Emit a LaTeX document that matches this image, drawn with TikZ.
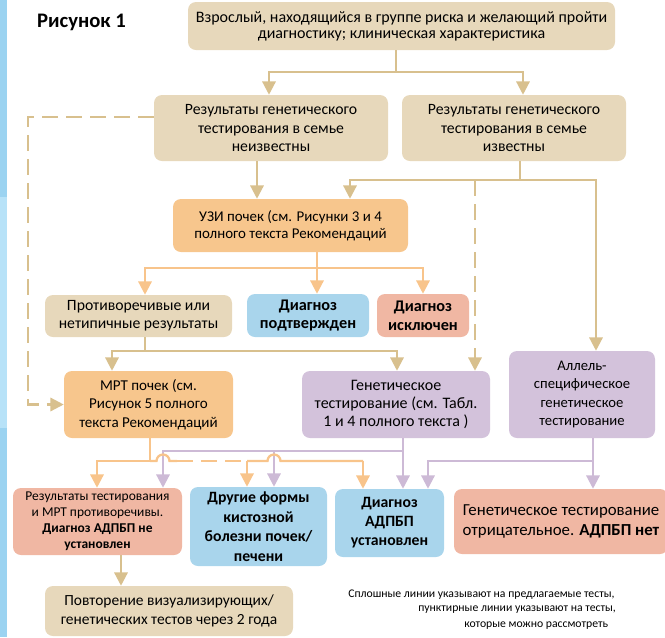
\documentclass[tikz,border=0pt]{standalone}
\usepackage{fontspec}
\setmainfont{Carlito}
\usetikzlibrary{arrows.meta}
\definecolor{tanL}{HTML}{D8C08E}
\definecolor{beigeF}{HTML}{E7D8BB}
\definecolor{orangeF}{HTML}{F7C68D}
\definecolor{orangeL}{HTML}{F8C48B}
\definecolor{blueF}{HTML}{A9D5EC}
\definecolor{salmonF}{HTML}{F0B7A3}
\definecolor{lilacF}{HTML}{D3C2DB}
\definecolor{purpleL}{HTML}{CDBAD6}
\definecolor{stripeD}{HTML}{9BD3F1}
\definecolor{stripeL}{HTML}{B7E2F8}
\begin{document}
\begin{tikzpicture}[x=0.75pt,y=-0.75pt,
  box/.style={rounded corners=6pt, align=center, inner sep=2pt, font=\fontsize{11.8}{13.8}\selectfont},
  beigebox/.style={box, fill=beigeF},
  orangebox/.style={box, fill=orangeF},
  bluebox/.style={box, fill=blueF},
  salmonbox/.style={box, fill=salmonF},
  lilacbox/.style={box, fill=lilacF},
  tl/.style={draw=tanL, line width=1.7pt},
  ol/.style={draw=orangeL, line width=1.7pt},
  pl/.style={draw=purpleL, line width=1.7pt},
  arr/.style={-{Triangle[width=10pt,length=10pt]}},
  dsh/.style={dash pattern=on 12pt off 6pt},
  notetext/.style={anchor=west, inner sep=0pt, font=\fontsize{8.8}{10}\selectfont}
]
\useasboundingbox (0,0) rectangle (665,637);
% left stripe
\fill[stripeD] (0,0) rectangle (7,197);
\fill[stripeL] (0,197) rectangle (7,428);
\fill[stripeD] (0,428) rectangle (7,637);

\node[font=\fontsize{15.5}{18}\bfseries, inner sep=0pt] (title) at (81.5,22) {Рисунок 1};

% boxes
\node[beigebox, minimum width=320.25pt, minimum height=36pt, font=\fontsize{12}{12}\selectfont] (top) at (401.5,26)
  {Взрослый, находящийся в группе риска и желающий пройти\\диагностику; клиническая характеристика};
\node[beigebox, minimum width=175.5pt, minimum height=49.5pt] (unknown) at (271,128)
  {Результаты генетического\\тестирования в семье\\неизвестны};
\node[beigebox, minimum width=168pt, minimum height=49.5pt] (known) at (514,128)
  {Результаты генетического\\тестирования в семье\\известны};
\node[orangebox, minimum width=176.25pt, minimum height=39.75pt, font=\fontsize{11.2}{12.4}\selectfont] (uzi) at (290.5,225.5)
  {УЗИ почек (см. Рисунки 3 и 4\\полного текста Рекомендаций};
\node[beigebox, minimum width=140.25pt, minimum height=31.5pt] (contr) at (138.5,316)
  {Противоречивые или\\нетипичные результаты};
\node[bluebox, minimum width=91.5pt, minimum height=32.25pt, font=\fontsize{12.2}{14.2}\bfseries] (confirmed) at (308,315.5)
  {Диагноз\\подтвержден};
\node[salmonbox, minimum width=69pt, minimum height=32.25pt, font=\fontsize{12.2}{14.2}\bfseries] (excluded) at (423,315.5)
  {Диагноз\\исключен};
\node[orangebox, minimum width=126.75pt, minimum height=50.25pt, font=\fontsize{11.3}{13.8}\selectfont] (mrt) at (148.5,404.5)
  {МРТ почек (см.\\Рисунок 5 полного\\текста Рекомендаций};
\node[lilacbox, minimum width=141pt, minimum height=50.25pt, font=\fontsize{12}{13.8}\selectfont] (gen) at (396,404.5)
  {Генетическое\\тестирование (см. Табл.\\1 и 4 полного текста )};
\node[lilacbox, minimum width=109.5pt, minimum height=65.25pt, font=\fontsize{11}{13.9}\selectfont] (allele) at (582,394.5)
  {Аллель-\\специфическое\\генетическое\\тестирование};
\node[salmonbox, minimum width=126.75pt, minimum height=50.25pt, font=\fontsize{10.1}{12}\selectfont] (res) at (97.5,521.5)
  {Результаты тестирования\\и МРТ противоречивы.\\\textbf{Диагноз АДПБП не}\\\textbf{установлен}};
\node[bluebox, minimum width=102.75pt, minimum height=59.25pt, font=\fontsize{11.8}{14.6}\bfseries] (other) at (258.5,526.5)
  {Другие формы\\кистозной\\болезни почек/\\печени};
\node[bluebox, minimum width=81.75pt, minimum height=51pt, font=\fontsize{11.8}{14.2}\bfseries] (estab) at (389.5,523)
  {Диагноз\\АДПБП\\установлен};
\node[salmonbox, minimum width=160.5pt, minimum height=48.75pt, font=\fontsize{12.6}{15}\selectfont] (neg) at (561,521.5)
  {Генетическое тестирование\\отрицательное. \textbf{АДПБП нет}};
\node[beigebox, minimum width=186pt, minimum height=37.5pt, font=\fontsize{11.6}{14.2}\selectfont] (repeat) at (169,611)
  {Повторение визуализирующих/\\генетических тестов через 2 года};

% note
\node[notetext] (note1) at (348,595) {Сплошные линии указывают на предлагаемые тесты,};
\node[notetext] (note2) at (418,610) {пунктирные линии указывают на тесты,};
\node[notetext] (note3) at (464,626) {которые можно рассмотреть};

% connectors: top level
\coordinate (j1) at (396,72);
\draw[tl] (top.south -| j1) -- (j1);
\draw[tl,arr] (j1) -| (unknown.north -| 269,0);
\draw[tl,arr] (j1) -| (known.north -| 523,0);

% unknown -> uzi
\draw[tl,arr] (unknown.south -| 257,0) -- (uzi.north -| 257,0);

% dashed loop unknown -> mrt
\draw[tl,dsh,arr] (unknown.west |- 0,117) -| (28,0 |- mrt.west) -- (mrt.west);

% known -> uzi, gen, allele
\coordinate (j2) at (520,180);
\draw[tl] (known.south -| j2) -- (j2);
\draw[tl,arr] (j2) -| (uzi.north -| 350,0);
\draw[tl,arr] (j2) -| (allele.north -| 596,0);
\draw[tl,dsh,arr] (475,180) -- (gen.north -| 475,0);

% uzi -> row 3
\coordinate (j3) at (317,268);
\draw[ol] (uzi.south -| j3) -- (j3);
\draw[ol,arr] (j3) -| (contr.north -| 145,0);
\draw[ol,arr] (j3) -- (confirmed.north -| j3);
\draw[ol,arr] (j3) -| (excluded.north -| 423,0);

% contr -> mrt, gen
\coordinate (j4) at (145,351);
\draw[tl] (contr.south -| j4) -- (j4);
\draw[tl,arr] (j4) -| (mrt.north -| 112,0);
\draw[tl,arr] (j4) -| (gen.north -| 397,0);

% gen -> bottom row (purple)
\coordinate (j5) at (403,451);
\draw[pl,arr] (gen.south -| j5) -- (estab.north -| j5);
\draw[pl,arr] (j5) -| (res.north -| 163,0);
\draw[pl,arr] (274,451) -- (other.north -| 274,0);

% allele -> bottom row
\coordinate (j6) at (593,461);
\draw[pl,arr] (allele.south -| j6) -- (neg.north -| j6);
\draw[pl,arr] (j6) -| (estab.north -| 428,0);

% mrt -> bottom row (orange)
\coordinate (j7) at (150,461);
\draw[ol] (mrt.south -| j7) -- (j7);
\draw[ol,arr] (j7) -| (res.north -| 97,0);
\draw[ol] (j7) -- (156.5,461) arc[start angle=180, end angle=360, radius=6.5] -- (177,461);
\draw[ol,dsh] (177,461) -- (247,461);
\coordinate (j8) at (247,461);
\draw[ol,arr] (j8) -- (other.north -| j8);
\draw[ol] (j8) -- (267.5,461) arc[start angle=180, end angle=360, radius=6.5] -- (363,461);
\draw[ol,arr] (363,461) -- (estab.north -| 363,0);

% res -> repeat
\draw[tl,arr] (res.south -| 121,0) -- (repeat.north -| 121,0);
\end{tikzpicture}
\end{document}
